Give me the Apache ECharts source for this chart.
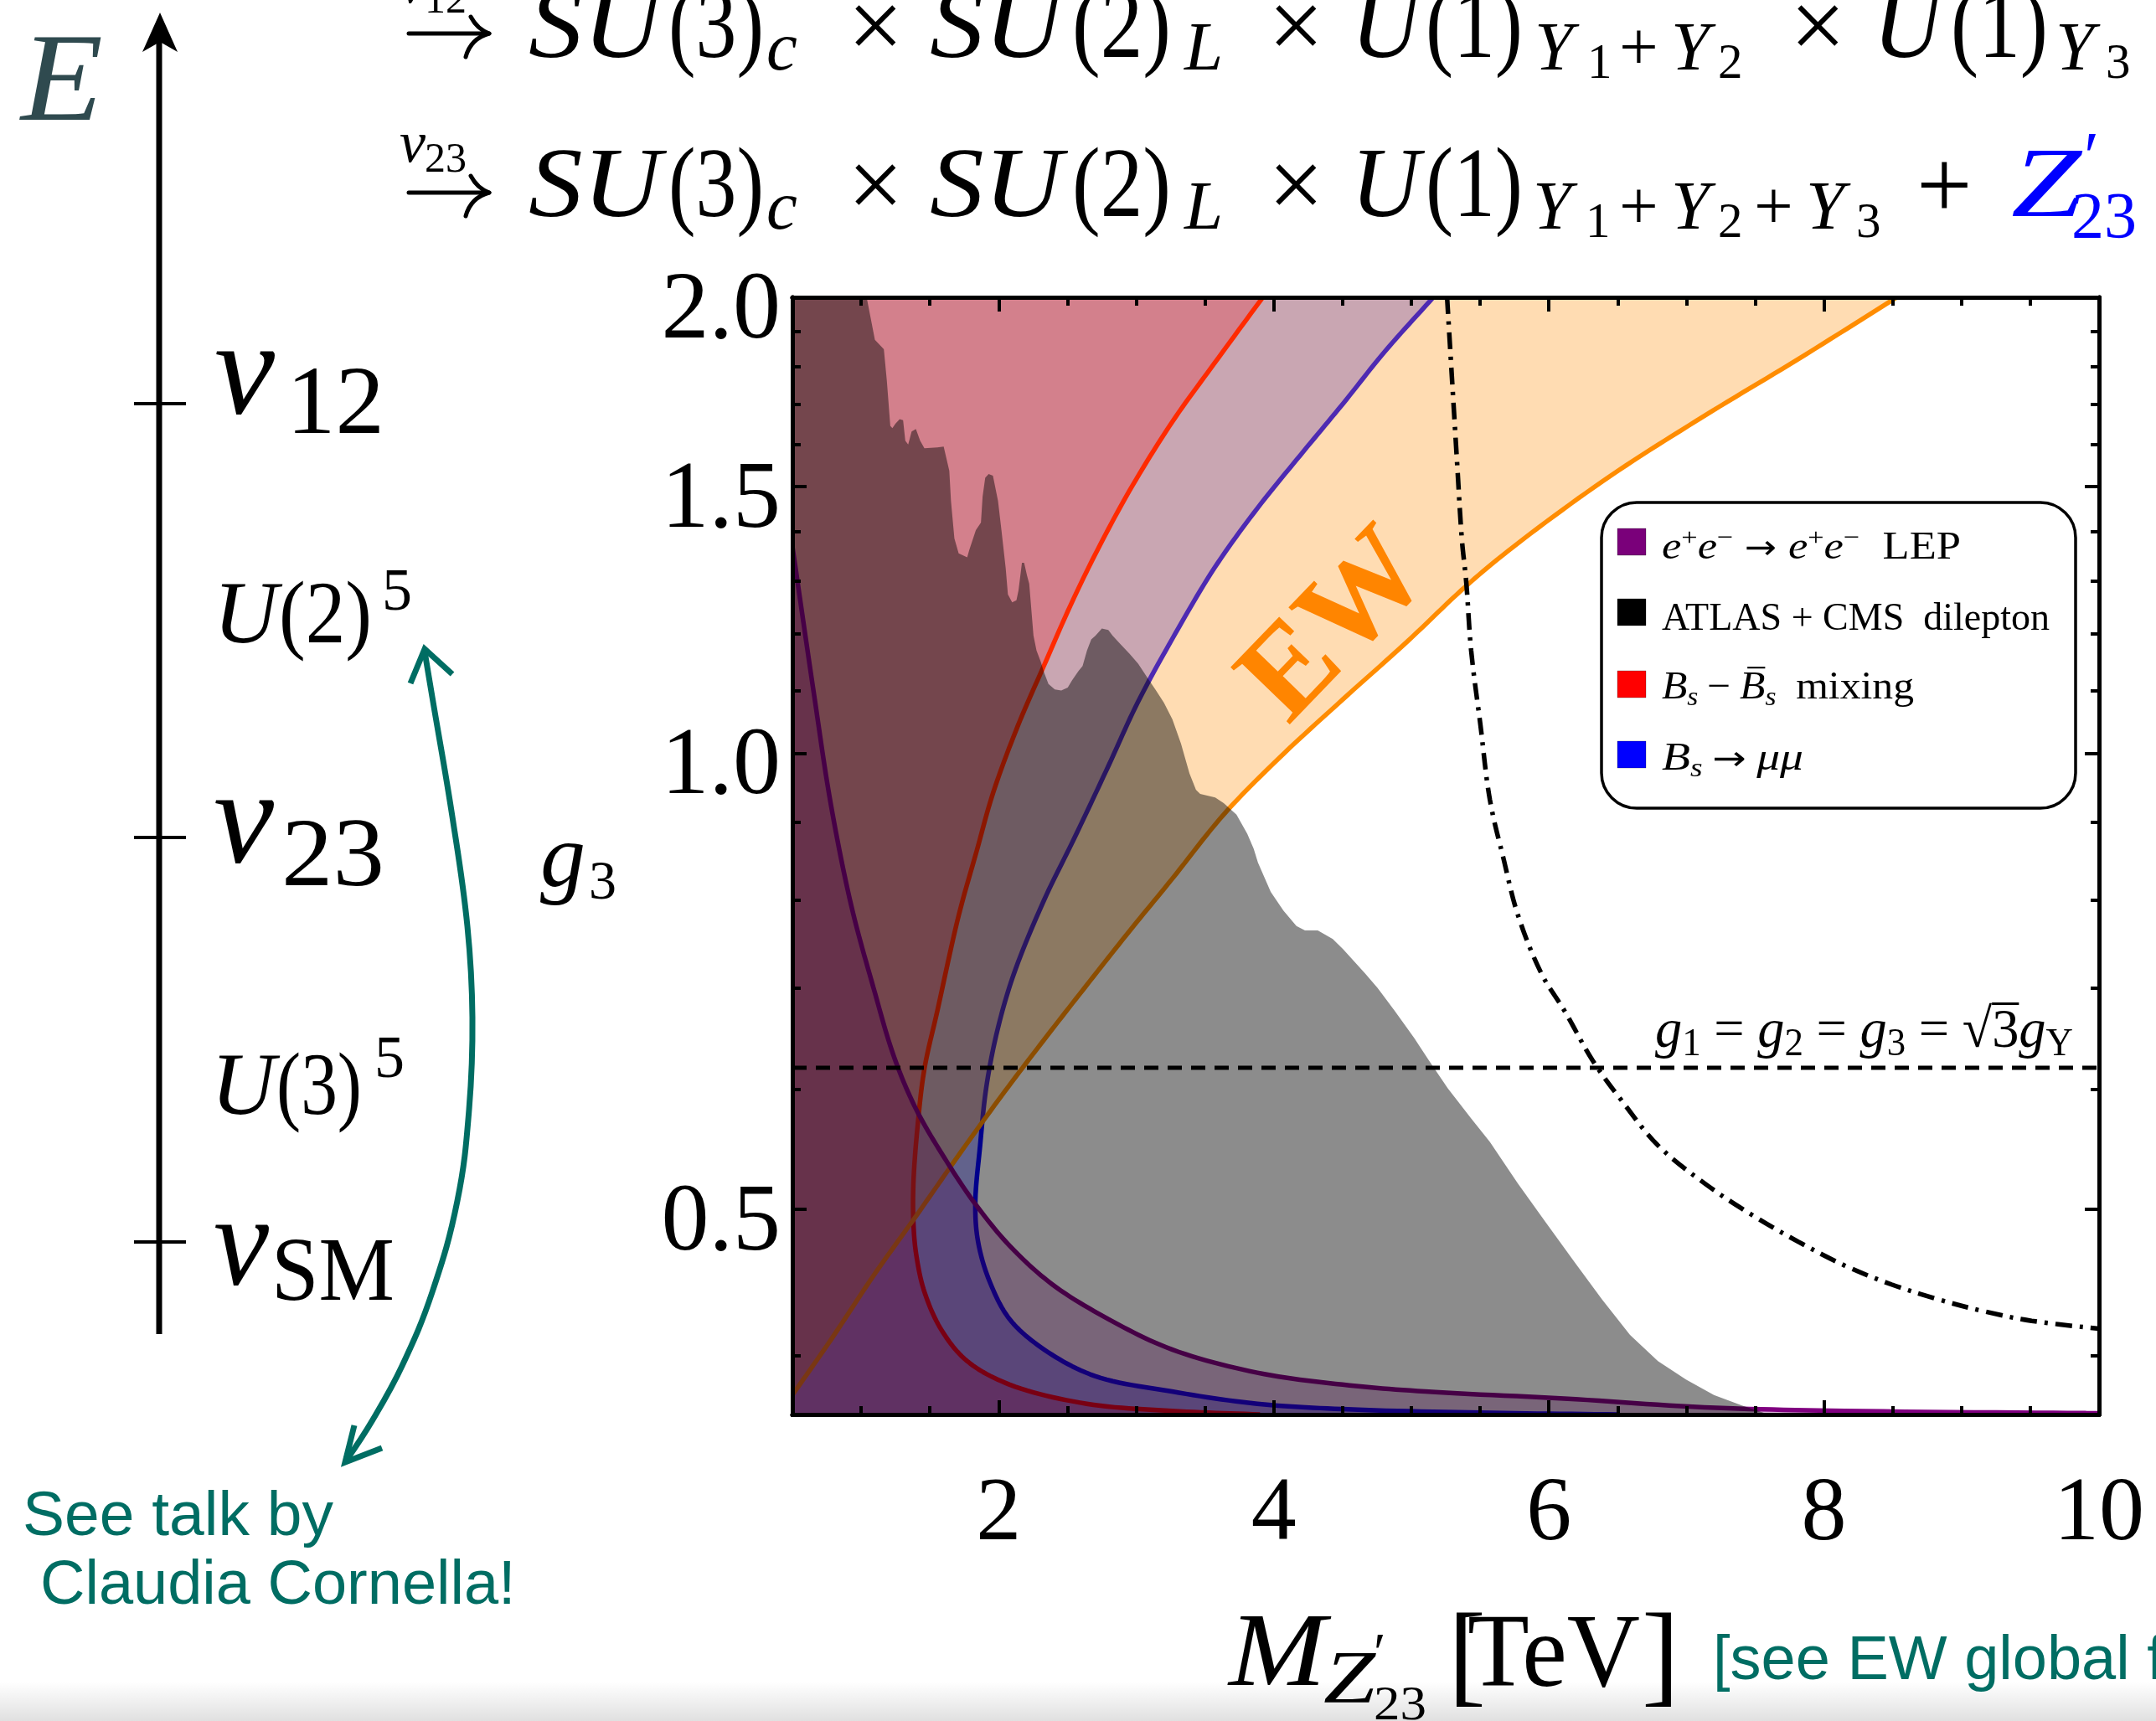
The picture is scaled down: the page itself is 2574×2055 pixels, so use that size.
<!DOCTYPE html>
<html>
<head>
<meta charset="utf-8">
<title>Z'23 bounds</title>
<script src="https://cdn.jsdelivr.net/npm/echarts@6/dist/echarts.min.js"></script>
<style>
  html, body { margin: 0; padding: 0; background: #ffffff; }
  #chart { width: 2574px; height: 2055px; }
</style>
</head>
<body>
<div id="chart"></div>
<script>
// ---------------------------------------------------------------------------
// Axis ranges and ticks
// ---------------------------------------------------------------------------
const massRange = [0.5, 10];            // M_Z'23 in TeV
const couplingRange = [0.366, 2.0];     // g3 (log scale)
const massMajorTicks = [2, 4, 6, 8, 10];
const massMinorTicks = [1, 1.5, 2.5, 3, 3.5, 4.5, 5, 5.5, 6.5, 7, 7.5, 8.5, 9, 9.5];
const couplingMajorTicks = [0.5, 1.0, 1.5, 2.0];
const couplingMinorTicks = [0.4, 0.6, 0.7, 0.8, 0.9, 1.1, 1.2, 1.3, 1.4, 1.6, 1.7, 1.8, 1.9];

// ---------------------------------------------------------------------------
// Exclusion contours, [M (TeV), g3]
// ---------------------------------------------------------------------------
// e+e- -> e+e- at LEP (excluded below the curve)
const lepBoundary = [
  [0.50, 1.37], [0.65, 1.105], [0.78, 0.925], [0.93, 0.792], [1.09, 0.700], [1.24, 0.630],
  [1.40, 0.582], [1.62, 0.538], [1.83, 0.504], [2.08, 0.473], [2.39, 0.446], [2.80, 0.423],
  [3.26, 0.404], [3.88, 0.390], [4.50, 0.383], [5.10, 0.379], [6.11, 0.375], [7.13, 0.370],
  [8.15, 0.368], [9.85, 0.3668], [10.0, 0.3667]
];

// ATLAS + CMS dilepton searches (excluded to the left)
const dileptonBoundary = [
  [1.04, 2.0], [1.10, 1.875], [1.165, 1.848], [1.187, 1.761], [1.212, 1.645], [1.227, 1.639],
  [1.249, 1.650], [1.280, 1.662], [1.305, 1.659], [1.321, 1.608], [1.342, 1.599], [1.367, 1.631],
  [1.398, 1.637], [1.429, 1.608], [1.460, 1.590], [1.554, 1.592], [1.600, 1.594], [1.641, 1.536],
  [1.653, 1.468], [1.678, 1.386], [1.709, 1.355], [1.771, 1.347], [1.787, 1.363], [1.834, 1.404],
  [1.871, 1.420], [1.883, 1.477], [1.902, 1.520], [1.927, 1.529], [1.958, 1.525], [1.995, 1.468],
  [2.020, 1.404], [2.051, 1.325], [2.067, 1.273], [2.098, 1.258], [2.129, 1.262], [2.144, 1.281],
  [2.169, 1.336], [2.185, 1.336], [2.206, 1.310], [2.222, 1.294], [2.253, 1.196], [2.275, 1.169],
  [2.306, 1.149], [2.331, 1.130], [2.362, 1.111], [2.408, 1.102], [2.455, 1.100], [2.502, 1.105],
  [2.533, 1.117], [2.579, 1.133], [2.610, 1.142], [2.642, 1.169], [2.673, 1.189], [2.704, 1.196],
  [2.750, 1.209], [2.797, 1.206], [2.828, 1.196], [2.890, 1.179], [2.952, 1.163], [3.014, 1.146],
  [3.077, 1.123], [3.139, 1.102], [3.201, 1.080], [3.263, 1.053], [3.325, 1.015], [3.387, 0.970],
  [3.434, 0.946], [3.465, 0.940], [3.574, 0.935], [3.636, 0.927], [3.729, 0.911], [3.807, 0.885],
  [3.854, 0.865], [3.885, 0.847], [3.978, 0.810], [4.071, 0.787], [4.165, 0.769], [4.227, 0.764],
  [4.320, 0.764], [4.429, 0.754], [4.506, 0.742], [4.662, 0.716], [4.755, 0.700], [4.879, 0.676],
  [5.019, 0.649], [5.128, 0.627], [5.265, 0.601], [5.435, 0.574], [5.571, 0.554], [5.775, 0.520],
  [5.978, 0.490], [6.182, 0.462], [6.386, 0.436], [6.590, 0.413], [6.793, 0.397], [6.997, 0.386],
  [7.200, 0.377], [7.404, 0.371], [7.600, 0.366]
];

// Bs - Bsbar mixing (excluded outside the U-shaped contour)
const bsMixingBoundary = [
  [3.92, 2.0], [3.57, 1.81], [3.26, 1.654], [2.95, 1.490], [2.70, 1.352], [2.52, 1.251],
  [2.33, 1.143], [2.14, 1.043], [1.96, 0.942], [1.84, 0.862], [1.71, 0.782], [1.554, 0.676],
  [1.46, 0.619], [1.41, 0.567], [1.38, 0.52], [1.38, 0.49], [1.40, 0.467], [1.46, 0.441],
  [1.585, 0.416], [1.77, 0.397], [2.08, 0.383], [2.64, 0.372], [3.26, 0.368], [3.90, 0.366]
];

// Bs -> mu mu (excluded outside the U-shaped contour)
const bsMuMuBoundary = [
  [5.16, 2.0], [4.81, 1.843], [4.50, 1.70], [4.19, 1.572], [3.88, 1.451], [3.57, 1.326],
  [3.26, 1.189], [3.01, 1.08], [2.80, 0.982], [2.55, 0.879], [2.33, 0.800], [2.11, 0.715],
  [1.99, 0.656], [1.91, 0.602], [1.865, 0.551], [1.83, 0.504], [1.85, 0.476], [1.93, 0.449],
  [2.08, 0.423], [2.33, 0.404], [2.70, 0.388], [3.26, 0.379], [3.88, 0.372], [4.50, 0.369],
  [5.50, 0.367], [6.50, 0.366]
];

// Electroweak precision (excluded above / left of the curve)
const ewBoundary = [
  [0.50, 0.377], [0.78, 0.410], [1.09, 0.452], [1.40, 0.495], [1.71, 0.543], [2.02, 0.594],
  [2.33, 0.647], [2.64, 0.703], [2.95, 0.763], [3.26, 0.826], [3.64, 0.912], [4.04, 0.993],
  [4.50, 1.085], [4.97, 1.185], [5.40, 1.290], [5.77, 1.375], [6.45, 1.525], [7.13, 1.670],
  [7.81, 1.820], [8.53, 2.0]
];

// Dash-dotted reference curve
const dashDotCurve = [
  [5.26, 2.0], [5.30, 1.741], [5.333, 1.554], [5.367, 1.386], [5.40, 1.295], [5.435, 1.169],
  [5.503, 1.043], [5.571, 0.932], [5.673, 0.850], [5.775, 0.782], [5.944, 0.716], [6.114, 0.676],
  [6.318, 0.627], [6.522, 0.591], [6.793, 0.551], [7.133, 0.520], [7.472, 0.496], [7.812, 0.476],
  [8.151, 0.459], [8.491, 0.446], [8.831, 0.436], [9.17, 0.428], [9.51, 0.422], [10.0, 0.417]
];

// Universal coupling g1 = g2 = g3 = sqrt(3) gY
const unifiedCoupling = 0.62;

// ---------------------------------------------------------------------------
// Text helpers
// ---------------------------------------------------------------------------
const SERIF = '"Liberation Serif", "Times New Roman", serif';
const SANS = '"Liberation Sans", Arial, Helvetica, sans-serif';
const ARROWS = '"DejaVu Sans", sans-serif';
const TEAL = '#006d63';
const measureCtx = document.createElement('canvas').getContext('2d');

function fontOf(tk) {
  const fam = tk.fam || (tk.sans ? SANS : SERIF);
  return (tk.it ? 'italic ' : '') + (tk.bold ? 'bold ' : '') + tk.size + 'px ' + fam;
}
// distance between the alphabetic baseline and the 'middle' line used for drawing
function liftOf(font) {
  measureCtx.font = font;
  measureCtx.textBaseline = 'alphabetic';
  const a = measureCtx.measureText('H').actualBoundingBoxAscent;
  measureCtx.textBaseline = 'middle';
  const b = measureCtx.measureText('H').actualBoundingBoxAscent;
  return a - b;
}
// Lays out a run of formula pieces. A piece sits on its own baseline (base) or is
// centred on mid; x is absolute when given, otherwise it follows the previous piece.
function typeset(tokens, opt) {
  opt = opt || {};
  const placed = [];
  let cursor = opt.x != null ? opt.x : 0;
  tokens.forEach(function (raw) {
    const tk = Object.assign({ size: opt.size || 100, color: opt.color || '#000', base: opt.base, sans: opt.sans }, raw);
    const font = fontOf(tk);
    measureCtx.font = font;
    const natural = measureCtx.measureText(tk.t).width || 1;
    const sx = tk.w ? tk.w / natural : 1;
    const x = tk.x != null ? tk.x : cursor + (tk.gap || 0);
    const y = tk.mid != null ? tk.mid : tk.base - liftOf(font);
    placed.push({ tk: tk, x: x, y: y, w: natural * sx, sx: sx, font: font });
    if (!tk.stay) cursor = x + natural * sx;
  });
  let f = 1;
  const x0 = placed[0].x;
  if (opt.width) {
    const end = Math.max.apply(null, placed.map(function (p) { return p.x + p.w; }));
    f = opt.width / (end - x0);
  }
  const els = [];
  placed.forEach(function (p) {
    const x = x0 + (p.x - x0) * f;
    els.push({
      type: 'text', x: x, y: p.y, scaleX: p.sx * f, z: 100, silent: true,
      style: { text: p.tk.t, font: p.font, fill: p.tk.color, align: 'left', verticalAlign: 'middle' }
    });
    if (p.tk.over) {
      const oy = p.tk.base - p.tk.size * p.tk.over;
      els.push({
        type: 'line', z: 100, silent: true,
        shape: { x1: x + p.w * f * (p.tk.overFrom || 0), y1: oy, x2: x + p.w * f, y2: oy },
        style: { stroke: p.tk.color, lineWidth: Math.max(2, p.tk.size * 0.045) }
      });
    }
  });
  return els;
}

// long thin arrow with a curled lower barb, as used over the breaking steps
function stepArrow(y) {
  const s = { stroke: '#000', lineWidth: 5, fill: 'none', lineCap: 'round' };
  return [
    { type: 'line', z: 100, silent: true, shape: { x1: 488, y1: y, x2: 582, y2: y }, style: s },
    { type: 'bezierCurve', z: 100, silent: true, shape: { x1: 584, y1: y, x2: 562, y2: y - 20, cpx1: 570, cpy1: y - 5 }, style: s },
    { type: 'bezierCurve', z: 100, silent: true, shape: { x1: 584, y1: y, x2: 556, y2: y + 28, cpx1: 562, cpy1: y + 6 }, style: s }
  ];
}

// symmetry-breaking chain at the top
function breakingLine(dy, label, tail) {
  const head = [
    { t: 'v', it: true, x: 477, base: 193 + dy, size: 70 },
    { t: label, x: 507, base: 205 + dy, size: 50 },
    { t: 'SU', it: true, x: 631, base: 258 + dy, size: 118, w: 158 },
    { t: '(3)', x: 798, base: 258 + dy, size: 118, w: 114 },
    { t: 'c', it: true, x: 915, base: 273 + dy, size: 83 },
    { t: '\u00d7', x: 1012, mid: 229 + dy, size: 118 },
    { t: 'SU', it: true, x: 1110, base: 258 + dy, size: 118, w: 158 },
    { t: '(2)', x: 1280, base: 258 + dy, size: 118, w: 118 },
    { t: 'L', it: true, x: 1414, base: 273 + dy, size: 83 },
    { t: '\u00d7', x: 1514, mid: 229 + dy, size: 118 },
    { t: 'U', it: true, x: 1613, base: 258 + dy, size: 118, w: 82 },
    { t: '(1)', x: 1702, base: 258 + dy, size: 118, w: 116 }
  ];
  return stepArrow(230 + dy).concat(typeset(head.concat(tail)));
}
const chainUpper = breakingLine(-190, '12', [
  { t: 'Y', it: true, x: 1832, base: 83, size: 83 },
  { t: '1', x: 1895, base: 93, size: 59 },
  { t: '+', x: 1933, base: 83, size: 83 },
  { t: 'Y', it: true, x: 1995, base: 83, size: 83 },
  { t: '2', x: 2051, base: 93, size: 59 },
  { t: '\u00d7', x: 2137, mid: 39, size: 118 },
  { t: 'U', it: true, x: 2236, base: 68, size: 118, w: 82 },
  { t: '(1)', x: 2329, base: 68, size: 118, w: 116 },
  { t: 'Y', it: true, x: 2454, base: 83, size: 83 },
  { t: '3', x: 2514, base: 93, size: 59 }
]);
const chainLower = breakingLine(0, '23', [
  { t: 'Y', it: true, x: 1830, base: 273, size: 83 },
  { t: '1', x: 1893, base: 283, size: 59 },
  { t: '+', x: 1933, base: 273, size: 83 },
  { t: 'Y', it: true, x: 1995, base: 273, size: 83 },
  { t: '2', x: 2051, base: 283, size: 59 },
  { t: '+', x: 2094, base: 273, size: 83 },
  { t: 'Y', it: true, x: 2156, base: 273, size: 83 },
  { t: '3', x: 2216, base: 283, size: 59 },
  { t: '+', x: 2288, mid: 230, size: 118 },
  { t: 'Z', it: true, x: 2401, base: 258, size: 118, w: 84, color: '#0000ff' },
  { t: '\u2032', x: 2488, base: 214, size: 83, color: '#0000ff' },
  { t: '23', x: 2473, base: 283, size: 78, color: '#0000ff' }
]);

// energy ladder on the left
const ladderText = typeset([
  { t: 'E', it: true, x: 25, base: 143, size: 150, w: 98, color: '#2f4a4f' },
  { t: 'v', it: true, x: 256, base: 493, size: 160, w: 72 },
  { t: '12', x: 342, base: 517, size: 116, w: 117 },
  { t: 'U', it: true, x: 255, base: 767, size: 106 },
  { t: '(2)', x: 333, base: 767, size: 106, w: 111 },
  { t: '5', x: 456, base: 728, size: 72 },
  { t: 'v', it: true, x: 255, base: 1029, size: 160, w: 72 },
  { t: '23', x: 336, base: 1057, size: 116, w: 123 },
  { t: 'U', it: true, x: 252, base: 1330, size: 106 },
  { t: '(3)', x: 330, base: 1330, size: 106, w: 102 },
  { t: '5', x: 447, base: 1286, size: 72 },
  { t: 'v', it: true, x: 255, base: 1533, size: 155, w: 66 },
  { t: 'SM', x: 324, base: 1552, size: 108, w: 147 },
  { t: 'See talk by', sans: true, x: 27, base: 1833, size: 75, color: TEAL },
  { t: 'Claudia Cornella!', sans: true, x: 48, base: 1915, size: 74, color: TEAL }
]);

// axis titles
const axisTitles = typeset([
  { t: 'g', it: true, x: 645, base: 1058, size: 108 },
  { t: '3', x: 703, base: 1073, size: 66 },
  { t: 'M', it: true, x: 1467, base: 2012, size: 125, w: 116 },
  { t: 'Z', it: true, x: 1580, base: 2032, size: 88, w: 62 },
  { t: '\u2032', x: 1640, base: 1995, size: 66 },
  { t: '23', x: 1640, base: 2053, size: 56, w: 63 },
  { t: '[', x: 1729, base: 2020, size: 135 },
  { t: 'TeV', x: 1752, base: 2013, size: 125, w: 206 },
  { t: ']', x: 1960, base: 2020, size: 135 },
  { t: '[see EW global fit]', sans: true, x: 2045, base: 2005, size: 74, color: TEAL }
]);

// label of the dashed line
const unifiedLabel = typeset([
  { t: 'g', it: true }, { t: '1', size: 46, base: 1260 },
  { t: '=', gap: 16 },
  { t: 'g', it: true, gap: 16 }, { t: '2', size: 46, base: 1260 },
  { t: '=', gap: 16 },
  { t: 'g', it: true, gap: 16 }, { t: '3', size: 46, base: 1260 },
  { t: '=', gap: 16 },
  { t: '\u221a', gap: 16 }, { t: '3', over: 0.78 },
  { t: 'g', it: true }, { t: 'Y', size: 46, base: 1260 }
], { x: 1976, base: 1250, size: 66, width: 499 });

// legend entries
const legendRows = [
  typeset([
    { t: 'e', it: true }, { t: '+', size: 30, base: 651 }, { t: 'e', it: true }, { t: '\u2212', size: 30, base: 651 },
    { t: '\u2192', fam: ARROWS, size: 40, gap: 12 }, { t: 'e', it: true, gap: 12 }, { t: '+', size: 30, base: 651 },
    { t: 'e', it: true }, { t: '\u2212', size: 30, base: 651 }, { t: 'LEP', gap: 24 }
  ], { x: 1984, base: 667, size: 46, width: 357 }),
  typeset([{ t: 'ATLAS + CMS  dilepton' }], { x: 1984, base: 752, size: 46, width: 463 }),
  typeset([
    { t: 'B', it: true }, { t: 's', it: true, size: 31, base: 842 },
    { t: '\u2212', gap: 10 }, { t: 'B', it: true, gap: 10, over: 0.8, overFrom: 0.3 }, { t: 's', it: true, size: 31, base: 842 },
    { t: 'mixing', gap: 22 }
  ], { x: 1984, base: 834, size: 46, width: 301 }),
  typeset([
    { t: 'B', it: true }, { t: 's', it: true, size: 31, base: 927 },
    { t: '\u2192', fam: ARROWS, size: 40, gap: 10 }, { t: '\u03bc\u03bc', it: true, gap: 10 }
  ], { x: 1984, base: 919, size: 46, width: 169 })
];
const legendSwatches = [
  { color: '#7a007a', y: 631 },
  { color: '#000000', y: 715 },
  { color: '#ff0000', y: 801 },
  { color: '#0000ff', y: 885 }
].map(function (s) {
  return { type: 'rect', z: 100, silent: true, shape: { x: 1931, y: s.y, width: 34, height: 32 },
           style: { fill: s.color, stroke: 'rgba(0,0,0,0.25)', lineWidth: 1 } };
});

// ---------------------------------------------------------------------------
// Region helpers
// ---------------------------------------------------------------------------
const gLo = couplingRange[0], gHi = couplingRange[1];
const mLo = massRange[0], mHi = massRange[1];
function lastMass(arr) { return arr[arr.length - 1][0]; }

// centripetal Catmull-Rom through already-projected pixel points
function spline(pts, steps) {
  if (pts.length < 3) return pts.slice();
  const n = pts.length;
  const ext = [[2 * pts[0][0] - pts[1][0], 2 * pts[0][1] - pts[1][1]]]
    .concat(pts, [[2 * pts[n - 1][0] - pts[n - 2][0], 2 * pts[n - 1][1] - pts[n - 2][1]]]);
  const knot = function (a, b) { return Math.pow(Math.hypot(b[0] - a[0], b[1] - a[1]), 0.5) || 1e-6; };
  const lerp = function (a, b, ta, tb, t) {
    const u = (t - ta) / (tb - ta);
    return [a[0] + (b[0] - a[0]) * u, a[1] + (b[1] - a[1]) * u];
  };
  const out = [pts[0]];
  for (let i = 1; i < ext.length - 2; i++) {
    const p0 = ext[i - 1], p1 = ext[i], p2 = ext[i + 1], p3 = ext[i + 2];
    const t0 = 0, t1 = t0 + knot(p0, p1), t2 = t1 + knot(p1, p2), t3 = t2 + knot(p2, p3);
    for (let s = 1; s <= steps; s++) {
      const t = t1 + (t2 - t1) * s / steps;
      const a1 = lerp(p0, p1, t0, t1, t), a2 = lerp(p1, p2, t1, t2, t), a3 = lerp(p2, p3, t2, t3, t);
      const b1 = lerp(a1, a2, t0, t2, t), b2 = lerp(a2, a3, t1, t3, t);
      out.push(lerp(b1, b2, t1, t2, t));
    }
  }
  return out;
}

function regionSeries(name, boundary, before, after, fill, stroke, smooth) {
  return {
    type: 'custom', name: name, coordinateSystem: 'cartesian2d',
    xAxisIndex: 0, yAxisIndex: 0, clip: true, silent: true, animation: false,
    data: [boundary[0]],
    renderItem: function (params, api) {
      const px = boundary.map(function (p) { return api.coord(p); });
      const edge = smooth ? spline(px, 12) : px;
      const poly = before.map(function (p) { return api.coord(p); })
        .concat(edge, after.map(function (p) { return api.coord(p); }));
      const children = [{ type: 'polygon', shape: { points: poly }, style: { fill: fill } }];
      if (stroke) {
        children.push({
          type: 'polyline', shape: { points: edge },
          style: { stroke: stroke, lineWidth: 5.5, fill: 'none', lineJoin: 'round' }
        });
      }
      return { type: 'group', children: children };
    }
  };
}

// ---------------------------------------------------------------------------
// Axes
// ---------------------------------------------------------------------------
function massAxis(position, ticks, len, withLabels) {
  return {
    type: 'value', position: position, min: mLo, max: mHi, z: 10,
    axisLine: { show: true, onZero: false, lineStyle: { color: '#000', width: 5 } },
    axisTick: { show: true, inside: true, length: len, customValues: ticks, lineStyle: { color: '#000', width: 4 } },
    axisLabel: withLabels ? {
      show: true, customValues: ticks, margin: 67, color: '#000',
      fontFamily: SERIF, fontSize: 108, showMinLabel: true, showMaxLabel: true,
      formatter: function (v) { return String(v); }
    } : { show: false },
    splitLine: { show: false }, minorTick: { show: false }
  };
}
function couplingAxis(position, ticks, len, withLabels) {
  return {
    type: 'log', logBase: 10, position: position, min: gLo, max: gHi, z: 10,
    axisLine: { show: true, onZero: false, lineStyle: { color: '#000', width: 5 } },
    axisTick: { show: true, inside: true, length: len, customValues: ticks, lineStyle: { color: '#000', width: 4 } },
    axisLabel: withLabels ? {
      show: true, customValues: ticks, margin: 14, color: '#000',
      fontFamily: SERIF, fontSize: 114, verticalAlign: 'top', lineHeight: 36,
      showMinLabel: true, showMaxLabel: true,
      formatter: function (v) { return Number(v).toFixed(1); }
    } : { show: false },
    splitLine: { show: false }, minorTick: { show: false }
  };
}

// ---------------------------------------------------------------------------
// Chart
// ---------------------------------------------------------------------------
const chart = echarts.init(document.getElementById('chart'), null, { renderer: 'canvas', width: 2574, height: 2055 });

const option = {
  animation: false,
  backgroundColor: '#ffffff',
  textStyle: { fontFamily: SERIF },
  grid: { left: 946, top: 355, width: 1560, height: 1334, containLabel: false },
  xAxis: [
    massAxis('bottom', massMajorTicks, 17, true),
    massAxis('bottom', massMinorTicks, 10, false),
    massAxis('top', massMajorTicks, 17, false),
    massAxis('top', massMinorTicks, 10, false)
  ],
  yAxis: [
    couplingAxis('left', couplingMajorTicks, 17, true),
    couplingAxis('left', couplingMinorTicks, 10, false),
    couplingAxis('right', couplingMajorTicks, 17, false),
    couplingAxis('right', couplingMinorTicks, 10, false)
  ],
  series: [
    regionSeries('Bs -> mu mu', bsMuMuBoundary,
      [[mLo, gLo], [mLo, gHi]], [[lastMass(bsMuMuBoundary), gLo]],
      'rgba(0,0,255,0.30)', '#0000ff', true),
    regionSeries('Bs mixing', bsMixingBoundary,
      [[mLo, gLo], [mLo, gHi]], [[lastMass(bsMixingBoundary), gLo]],
      'rgba(229,0,77,0.30)', '#ff0000', true),
    regionSeries('EW', ewBoundary,
      [[mLo, gHi]], [],
      'rgba(255,140,0,0.30)', '#ff8c00', true),
    regionSeries('LEP', lepBoundary,
      [[mLo, gLo]], [[mHi, gLo]],
      'rgba(128,0,128,0.28)', '#800080', true),
    regionSeries('ATLAS + CMS dilepton', dileptonBoundary,
      [[mLo, gLo], [mLo, gHi]], [[lastMass(dileptonBoundary), gLo]],
      'rgba(0,0,0,0.45)', null, false),
    {
      type: 'line', name: 'unified', silent: true, showSymbol: false, animation: false,
      data: [[mLo, unifiedCoupling], [mHi, unifiedCoupling]],
      lineStyle: { color: '#000', width: 5, type: [17, 11] }, z: 5
    },
    {
      type: 'line', name: 'dash-dot', silent: true, showSymbol: false, animation: false, clip: true,
      smooth: 0.35, data: dashDotCurve,
      lineStyle: { color: '#000', width: 5.5, type: [20, 9, 4, 9] }, z: 5
    }
  ],
  graphic: {
    elements: [].concat(
      // bottom shading strip
      [{ type: 'rect', z: 1, silent: true, shape: { x: 0, y: 2008, width: 2574, height: 47 },
         style: { fill: new echarts.graphic.LinearGradient(0, 0, 0, 1, [
           { offset: 0, color: 'rgba(0,0,0,0)' }, { offset: 1, color: 'rgba(0,0,0,0.12)' }]) } }],
      // energy axis with arrow head and scale marks
      [
        { type: 'line', z: 100, silent: true, shape: { x1: 190, y1: 1593, x2: 190, y2: 45 }, style: { stroke: '#000', lineWidth: 7 } },
        { type: 'polygon', z: 100, silent: true, shape: { points: [[191, 15], [170, 62], [191, 50], [212, 62]] }, style: { fill: '#000' } },
        { type: 'line', z: 100, silent: true, shape: { x1: 160, y1: 482, x2: 222, y2: 482 }, style: { stroke: '#000', lineWidth: 4 } },
        { type: 'line', z: 100, silent: true, shape: { x1: 160, y1: 1000, x2: 222, y2: 1000 }, style: { stroke: '#000', lineWidth: 4 } },
        { type: 'line', z: 100, silent: true, shape: { x1: 160, y1: 1483, x2: 222, y2: 1483 }, style: { stroke: '#000', lineWidth: 4 } }
      ],
      // curved double arrow
      [
        { type: 'polyline', z: 100, silent: true,
          shape: { points: [[507, 778], [516, 832], [540, 975], [558, 1106], [564, 1215], [560, 1325], [546, 1434], [516, 1543], [480, 1631], [444, 1697], [414, 1743]], smooth: 0.4 },
          style: { stroke: TEAL, lineWidth: 7, fill: 'none', lineCap: 'round' } },
        { type: 'polyline', z: 100, silent: true, shape: { points: [[490, 816], [507, 775], [540, 805]] },
          style: { stroke: TEAL, lineWidth: 7, fill: 'none', lineJoin: 'miter' } },
        { type: 'polyline', z: 100, silent: true, shape: { points: [[423, 1702], [412, 1746], [456, 1729]] },
          style: { stroke: TEAL, lineWidth: 7, fill: 'none', lineJoin: 'miter' } }
      ],
      ladderText, chainUpper, chainLower, axisTitles, unifiedLabel,
      // EW band label
      [{ type: 'text', z: 100, silent: true, x: 1597, y: 750, rotation: 46 * Math.PI / 180,
         style: { text: 'EW', font: 'bold 150px ' + SERIF, fill: '#ff8500', align: 'center', verticalAlign: 'middle' } }],
      // legend box
      [{ type: 'rect', z: 99, silent: true, shape: { x: 1912, y: 600, width: 566, height: 365, r: 42 },
         style: { fill: '#ffffff', stroke: '#000', lineWidth: 3.5 } }],
      legendSwatches,
      legendRows[0], legendRows[1], legendRows[2], legendRows[3]
    )
  }
};

chart.setOption(option);
</script>
</body>
</html>
